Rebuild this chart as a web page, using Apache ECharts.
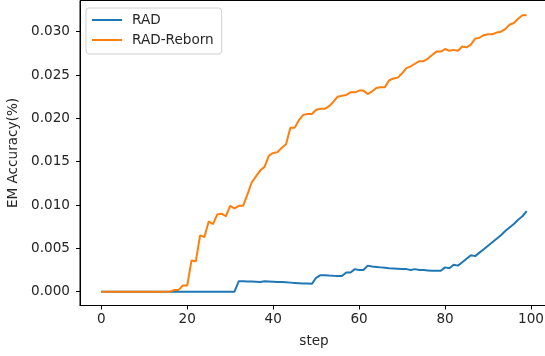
<!DOCTYPE html>
<html><head><meta charset="utf-8">
<script src="https://cdn.jsdelivr.net/npm/echarts@6/dist/echarts.min.js"></script>
<style>html,body{margin:0;padding:0;background:#fff}#c{width:545px;height:356px}</style>
</head><body><div id="c"></div><script>
const steps = [0,1,2,3,4,5,6,7,8,9,10,11,12,13,14,15,16,17,18,19,20,21,22,23,24,25,26,27,28,29,30,31,32,33,34,35,36,37,38,39,40,41,42,43,44,45,46,47,48,49,50,51,52,53,54,55,56,57,58,59,60,61,62,63,64,65,66,67,68,69,70,71,72,73,74,75,76,77,78,79,80,81,82,83,84,85,86,87,88,89,90,91,92,93,94,95,96,97,98,99];
const rad = [0,0,0,0,0,0,0,0,0,0,0,0,0,0,0,0,0,0,0,0,0,0,0,0,0,0,0,0,0,0,0,0,
  0.0012,0.0012,0.00118,0.00116,0.00114,0.0011,0.0012,0.00118,0.00115,0.00112,0.0011,0.00107,0.00104,0.00101,0.00098,0.00095,0.00093,0.0009,
  0.0016,0.0019,0.0019,0.00185,0.00182,0.0018,0.0018,0.0022,0.0022,0.0026,0.0025,0.0025,0.003,0.0029,0.00285,0.0028,0.00275,0.0027,0.00268,0.00265,
  0.0026,0.0026,0.0025,0.0026,0.0025,0.0025,0.00245,0.0024,0.0024,0.0024,0.0028,0.0027,0.0031,0.003,0.0034,0.0038,0.0042,0.0041,0.0045,0.0049,
  0.0053,0.0057,0.0061,0.0065,0.007,0.0074,0.0078,0.0083,0.0087,0.0093];
const radReborn = [0,0,0,0,0,0,0,0,0,0,0,0,0,0,0,0,0,
  0.0002,0.0002,0.0007,0.0007,0.0036,0.0035,0.0065,0.0063,0.0081,0.0078,0.0089,0.009,0.0087,0.0099,0.0096,0.0099,0.0099,0.0112,0.0126,0.0133,0.014,0.0144,0.0157,
  0.016,0.0161,0.0166,0.017,0.0189,0.0189,0.0198,0.0204,0.0205,0.0205,0.021,0.0211,0.0211,0.0214,0.0219,0.0225,0.0226,0.0227,0.023,0.023,
  0.0232,0.0232,0.0228,0.0231,0.0235,0.0236,0.0236,0.0244,0.0246,0.0247,0.0252,0.0258,0.026,0.0263,0.0266,0.0266,0.0269,0.0273,0.0277,0.0277,
  0.028,0.0278,0.0279,0.0278,0.0283,0.0282,0.0285,0.0292,0.0293,0.0296,0.0297,0.0297,0.0299,0.03,0.0303,0.0308,0.031,0.0315,0.0319,0.0319];
const xTicks = [0,20,40,60,80,100];
const yTicks = [0,0.005,0.010,0.015,0.020,0.025,0.030];
const seriesNames = ['RAD','RAD-Reborn'];

const txt = '#262626';
const font = 'DejaVu Sans';
const fs = 13.6;
const chart = echarts.init(document.getElementById('c'), null, {renderer:'canvas'});
const pair = arr => steps.map((s,i)=>[s, arr[i]]);
chart.setOption({
  animation:false,
  backgroundColor:'#fff',
  textStyle:{fontFamily:font},
  grid:{left:80, top:0.5, width:468, height:305, outerBoundsMode:'none', containLabel:false, show:true, borderColor:'#000', borderWidth:1, backgroundColor:'#fff'},
  legend:{
    orient:'vertical', left:86, top:8, itemWidth:30, itemHeight:2, icon:'rect', itemGap:6,
    padding:[5,8,7,6], backgroundColor:'rgba(255,255,255,0.8)', borderColor:'#d0d0d0', borderWidth:1, borderRadius:3,
    textStyle:{fontSize:fs, color:txt, fontFamily:font, padding:[0,0,0,5]},
    data:seriesNames
  },
  xAxis:{
    type:'value', min:-4.95, max:103.95,
    axisLine:{show:true, onZero:false, lineStyle:{color:'#000', width:1}},
    axisTick:{show:true, length:4, customValues:xTicks, lineStyle:{color:'#000'}},
    axisLabel:{customValues:xTicks, fontSize:fs, color:txt, margin:7, fontFamily:font},
    splitLine:{show:false},
    name:'step', nameLocation:'middle', nameGap:29, nameTextStyle:{fontSize:fs, color:txt, fontFamily:font}
  },
  yAxis:{
    type:'value', min:-0.0016, max:0.0336,
    axisLine:{show:true, onZero:false, lineStyle:{color:'#000', width:1}},
    axisTick:{show:true, length:4, customValues:yTicks, lineStyle:{color:'#000'}},
    axisLabel:{customValues:yTicks, fontSize:fs, color:txt, margin:10, fontFamily:font, formatter:v=>v.toFixed(3)},
    splitLine:{show:false},
    name:'EM Accuracy(%)', nameLocation:'middle', nameGap:53, nameRotate:90, nameTextStyle:{fontSize:fs, color:txt, fontFamily:font}
  },
  series:[
    {name:seriesNames[0], type:'line', data:pair(rad), showSymbol:false, symbol:'none', color:'#1f77b4', lineStyle:{width:2, color:'#1f77b4'}},
    {name:seriesNames[1], type:'line', data:pair(radReborn), showSymbol:false, symbol:'none', color:'#ff7f0e', lineStyle:{width:2, color:'#ff7f0e'}}
  ]
});
</script></body></html>
